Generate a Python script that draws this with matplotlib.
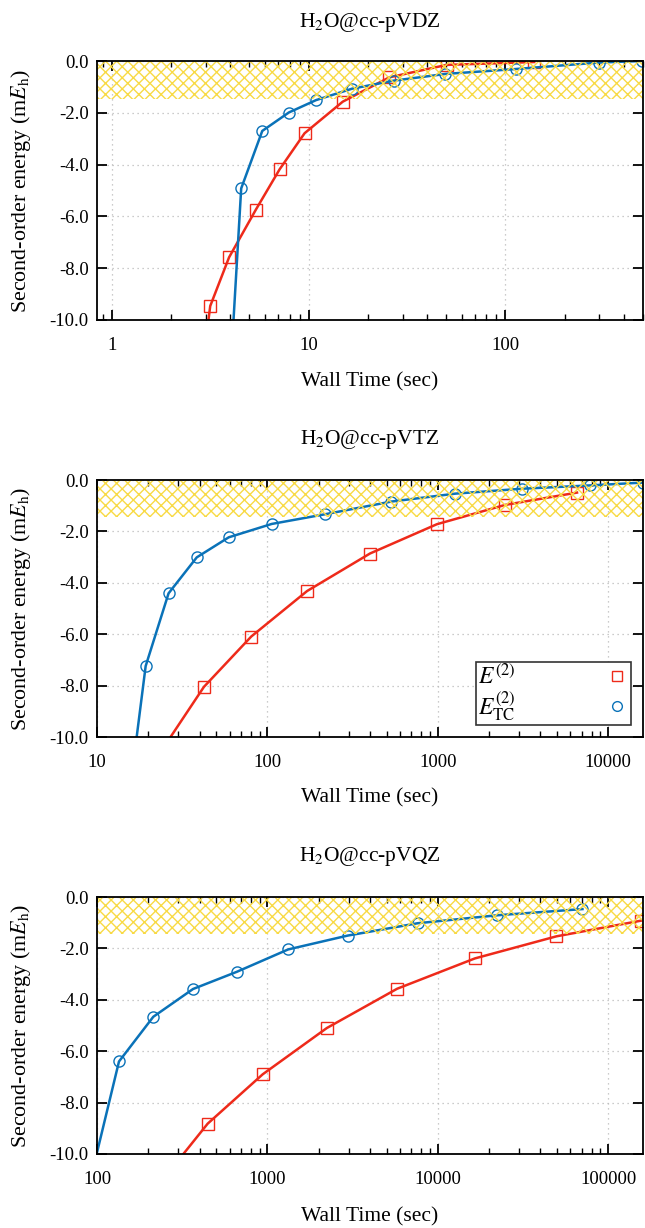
import matplotlib
matplotlib.use('Agg')
import matplotlib.pyplot as plt
from matplotlib.lines import Line2D
from matplotlib.ticker import FormatStrFormatter, LogLocator, FixedLocator, NullFormatter

plt.rcParams['font.family'] = ['Liberation Serif', 'DejaVu Serif']
plt.rcParams['mathtext.fontset'] = 'stix'
plt.rcParams['hatch.linewidth'] = 1.0
plt.rcParams['hatch.color'] = '#f8da45'

# ---- data (wall time in sec, energy in mEh) ----
titles = ['H$_2$O@cc-pVDZ', 'H$_2$O@cc-pVTZ', 'H$_2$O@cc-pVQZ']

# cc-pVDZ
dz_t_e2 = [2.7, 3.16, 3.94, 5.38, 7.12, 9.53, 14.9, 25.7, 50.3, 140]
dz_e2 = [-13.6, -9.46, -7.58, -5.75, -4.18, -2.79, -1.57, -0.63, -0.15, -0.04]
dz_t_tc = [3.9, 4.54, 5.81, 7.92, 10.9, 16.6, 27.0, 49.5, 113, 298, 495]
dz_tc = [-13.5, -4.92, -2.70, -1.99, -1.51, -1.07, -0.76, -0.50, -0.31, -0.06, 0.0]

# cc-pVTZ
tz_t_e2 = [20, 42.4, 80.4, 171, 400, 988, 2480, 6560]
tz_e2 = [-11.3, -8.05, -6.09, -4.32, -2.86, -1.72, -0.97, -0.49]
tz_t_tc = [16, 19.3, 26.3, 38.5, 59.3, 106, 219, 533, 1270, 3110, 7850, 16000]
tz_tc = [-11.5, -7.24, -4.41, -3.01, -2.23, -1.71, -1.33, -0.84, -0.53, -0.34, -0.21, -0.10]

# cc-pVQZ
qz_t_e2 = [250, 446, 938, 2230, 5770, 16500, 49700, 156000]
qz_e2 = [-10.9, -8.82, -6.90, -5.10, -3.57, -2.39, -1.53, -0.92]
qz_t_tc = [90, 134.6, 214, 366, 662, 1324, 2965, 7630, 22400, 70600]
qz_tc = [-11.2, -6.40, -4.66, -3.58, -2.91, -2.04, -1.50, -1.02, -0.71, -0.47]

xlims = [(0.84, 500), (10, 16000), (100, 160000)]
yticks = [-10, -8, -6, -4, -2, 0]
chem_acc = -1.45

red = '#ee2a1a'
blue = '#0a72b8'

series = [(dz_t_e2, dz_e2, dz_t_tc, dz_tc),
          (tz_t_e2, tz_e2, tz_t_tc, tz_tc),
          (qz_t_e2, qz_e2, qz_t_tc, qz_tc)]

fig = plt.figure(figsize=(6.45, 12.28), dpi=100)
W, H = 645.0, 1228.0
left, right = 97, 643
tops = [61, 480, 897]
bots = [320, 737, 1154]
title_y = [22, 440, 857]
xlab_y = [382, 798, 1217]

for i in range(3):
    ax = fig.add_axes([left / W, 1 - bots[i] / H, (right - left) / W, (bots[i] - tops[i]) / H])
    t1, e1, t2, e2 = series[i]
    ax.set_xscale('log')
    ax.set_xlim(*xlims[i])
    ax.set_ylim(-10, 0)

    ax.plot(t1, e1, color=red, lw=1.8, marker='s', ms=8, mfc='none', mec=red, mew=1.0, zorder=2)
    ax.plot(t2, e2, color=blue, lw=1.8, marker='o', ms=8, mfc='none', mec=blue, mew=1.0, zorder=2)

    # chemical accuracy band
    ax.fill_between(xlims[i], chem_acc, 0, facecolor='none', edgecolor='#f8da45',
                    hatch='xxx', linewidth=0, zorder=3)

    ax.yaxis.set_major_locator(FixedLocator(yticks))
    ax.yaxis.set_major_formatter(FormatStrFormatter('%.1f'))
    ax.xaxis.set_major_locator(LogLocator(base=10))
    ax.xaxis.set_minor_locator(LogLocator(base=10, subs=range(2, 10)))
    ax.xaxis.set_minor_formatter(NullFormatter())
    ax.xaxis.set_major_formatter(FormatStrFormatter('%d'))

    ax.grid(True, which='major', color='#bbbbbb', linestyle=(0, (1, 3)), linewidth=0.9)
    ax.tick_params(which='both', direction='in', top=True, right=True, labelsize=13.5)
    ax.tick_params(which='major', length=7, width=1.3)
    ax.tick_params(which='minor', length=4, width=1.0)
    ax.tick_params(axis='x', pad=12)
    ax.tick_params(axis='y', pad=6)
    for s in ax.spines.values():
        s.set_linewidth(1.3)
        s.set_zorder(4)

    fig.text(370 / W, 1 - title_y[i] / H, titles[i], ha='center', va='center', fontsize=15.5)
    fig.text(370 / W, 1 - xlab_y[i] / H, 'Wall Time (sec)', ha='center', va='center', fontsize=15.5)
    fig.text(21 / W, 1 - (tops[i] + bots[i]) / 2 / H, 'Second-order energy (m$E_\\mathrm{h}$)',
             ha='center', va='center', rotation=90, fontsize=15.8)

    if i == 1:
        handles = [Line2D([], [], ls='none', marker='s', ms=7, mfc='none', mec=red, mew=1.0),
                   Line2D([], [], ls='none', marker='o', ms=7, mfc='none', mec=blue, mew=1.0)]
        leg = ax.legend(handles, ['$E^{(2)}$', '$E^{(2)}_{\\mathrm{TC}}$'], loc='lower right',
                        markerfirst=False, fontsize=17, fancybox=False, framealpha=1,
                        edgecolor='#333333', handletextpad=3.8, borderpad=0.1,
                        labelspacing=0.0, borderaxespad=0.5, handlelength=1.0)
        leg.get_frame().set_linewidth(1.2)
        leg.set_zorder(5)

fig.savefig('out.png', dpi=100)
